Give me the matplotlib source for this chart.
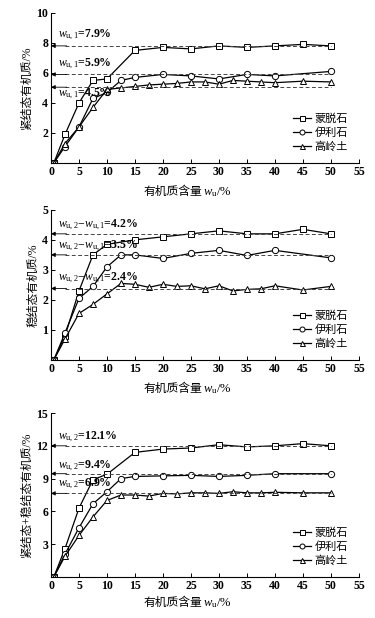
import matplotlib
matplotlib.use('Agg')
import matplotlib.pyplot as plt

plt.rcParams['font.family'] = ['Liberation Serif', 'Noto Sans CJK SC']
plt.rcParams['mathtext.fontset'] = 'custom'
plt.rcParams['mathtext.rm'] = 'Liberation Serif'
plt.rcParams['mathtext.it'] = 'Liberation Serif:italic'

names = ['蒙脱石', '伊利石', '高岭土']
markers = ['s', 'o', '^']

x_m = [0.5, 2.5, 5, 7.5, 10, 15, 20, 25, 30, 35, 40, 45, 50]
x_i = [0.5, 2.5, 5, 7.5, 10, 12.5, 15, 20, 25, 30, 35, 40, 50]
x_k = [0.5, 2.5, 5, 7.5, 10, 12.5, 15, 17.5, 20, 22.5, 25, 27.5, 30, 32.5, 35, 37.5, 40, 45, 50]

# panel 1: tight-bound
p1_m = [0, 1.9, 4.0, 5.5, 5.6, 7.5, 7.7, 7.6, 7.8, 7.7, 7.8, 7.9, 7.8]
p1_i = [0, 1.1, 2.4, 4.3, 4.7, 5.5, 5.7, 5.9, 5.8, 5.6, 5.9, 5.8, 6.1]
p1_k = [0, 1.3, 2.4, 3.7, 4.9, 5.0, 5.1, 5.2, 5.25, 5.3, 5.4, 5.4, 5.25, 5.5, 5.45, 5.4, 5.35, 5.45, 5.4]
# panel 2: stable-bound
p2_m = [0, 0.8, 2.3, 3.5, 3.85, 4.0, 4.1, 4.2, 4.3, 4.2, 4.2, 4.35, 4.2]
p2_i = [0, 0.9, 2.05, 2.45, 3.1, 3.5, 3.5, 3.38, 3.55, 3.65, 3.48, 3.65, 3.4]
p2_k = [0, 0.7, 1.55, 1.85, 2.2, 2.55, 2.52, 2.42, 2.52, 2.45, 2.47, 2.37, 2.47, 2.3, 2.35, 2.37, 2.47, 2.33, 2.45]
# panel 3: sum
p3_m = [0, 2.6, 6.3, 8.9, 9.4, 11.4, 11.7, 11.8, 12.1, 11.9, 12.0, 12.2, 12.0]
p3_i = [0, 2.1, 4.5, 6.7, 7.8, 9.0, 9.2, 9.25, 9.3, 9.2, 9.3, 9.45, 9.45]
p3_k = [0, 1.9, 3.8, 5.5, 7.0, 7.5, 7.5, 7.4, 7.65, 7.6, 7.7, 7.7, 7.65, 7.8, 7.7, 7.7, 7.75, 7.7, 7.7]

levels1 = [7.8, 5.9, 5.05]
levels2 = [4.2, 3.5, 2.38]
levels3 = [12.0, 9.45, 7.65]

labels1 = [r'$w_{\mathrm{u,1}}$=7.9%', r'$w_{\mathrm{u,1}}$=5.9%', r'$w_{\mathrm{u,1}}$=4.5%']
labels2 = [r'$w_{\mathrm{u,2}}$$-$$w_{\mathrm{u,1}}$=4.2%', r'$w_{\mathrm{u,2}}$$-$$w_{\mathrm{u,1}}$=3.5%',
           r'$w_{\mathrm{u,2}}$$-$$w_{\mathrm{u,1}}$=2.4%']
labels3 = [r'$w_{\mathrm{u,2}}$=12.1%', r'$w_{\mathrm{u,2}}$=9.4%', r'$w_{\mathrm{u,2}}$=6.9%']
label_y1 = [8.5, 6.6, 4.6]
label_y2 = [4.5, 3.78, 2.72]
label_y3 = [12.8, 10.15, 8.5]

panels = [
    dict(ys=[p1_m, p1_i, p1_k], lv=levels1, lb=labels1, ly=label_y1, ylim=10, yt=[2, 4, 6, 8, 10],
         ylabel='紧结态有机质/%', pos=[0.136, 0.7362, 0.821, 0.243], xl=-21),
    dict(ys=[p2_m, p2_i, p2_k], lv=levels2, lb=labels2, ly=label_y2, ylim=5, yt=[1, 2, 3, 4, 5],
         ylabel='稳结态有机质/%', pos=[0.136, 0.4175, 0.821, 0.243], xl=-21),
    dict(ys=[p3_m, p3_i, p3_k], lv=levels3, lb=labels3, ly=label_y3, ylim=15, yt=[3, 6, 9, 12, 15],
         ylabel='紧结态+稳结态有机质/%', pos=[0.136, 0.0663, 0.821, 0.2654], xl=-19),
]

fig = plt.figure(figsize=(3.75, 6.18), dpi=100)
for p in panels:
    ax = fig.add_axes(p['pos'])
    for xs, ys, nm, mk in zip([x_m, x_i, x_k], p['ys'], names, markers):
        ax.plot(xs, ys, color='black', lw=0.9, marker=mk, ms=4.5, mfc='white', mec='black', mew=0.7, label=nm)
    for lv, lb, ly in zip(p['lv'], p['lb'], p['ly']):
        ax.plot([2.5, 50], [lv, lv], ls=(0, (4, 2.5)), color='#444444', lw=0.7)
        ax.annotate('', xy=(0, lv), xytext=(2.8, lv),
                    arrowprops=dict(arrowstyle='-|>', lw=0.6, color='black', mutation_scale=6,
                                    shrinkA=0, shrinkB=0))
        ax.text(1.2, ly, lb, fontsize=8.5, va='center', ha='left', fontweight='bold')
    ax.set_xlim(0, 55)
    ax.set_ylim(0, p['ylim'])
    ax.set_xticks(range(0, 56, 5))
    ax.set_yticks(p['yt'])
    ax.spines['top'].set_visible(False)
    ax.spines['right'].set_visible(False)
    ax.tick_params(direction='in', length=3, width=0.7, labelsize=8.5, pad=2)
    for lab in ax.get_xticklabels() + ax.get_yticklabels():
        lab.set_fontweight('bold')
    for s in ['left', 'bottom']:
        ax.spines[s].set_linewidth(0.8)
    ax.set_ylabel(p['ylabel'], fontsize=8.5, labelpad=2)
    # x label: CJK part and math part drawn as two texts
    ax.annotate('有机质含量', xy=(0.49, 0), xycoords='axes fraction', xytext=(0, p['xl']),
                textcoords='offset points', ha='right', va='center', fontsize=8.5)
    ax.annotate(r'$w_{\mathrm{u}}$/%', xy=(0.49, 0), xycoords='axes fraction', xytext=(0.5, p['xl']),
                textcoords='offset points', ha='left', va='center', fontsize=9)
    ax.legend(loc='lower right', frameon=False, fontsize=8, handlelength=1.6, markerscale=0.8,
              labelspacing=0.3, borderaxespad=0.6, handletextpad=0.3)

fig.savefig('out.png', dpi=100)
